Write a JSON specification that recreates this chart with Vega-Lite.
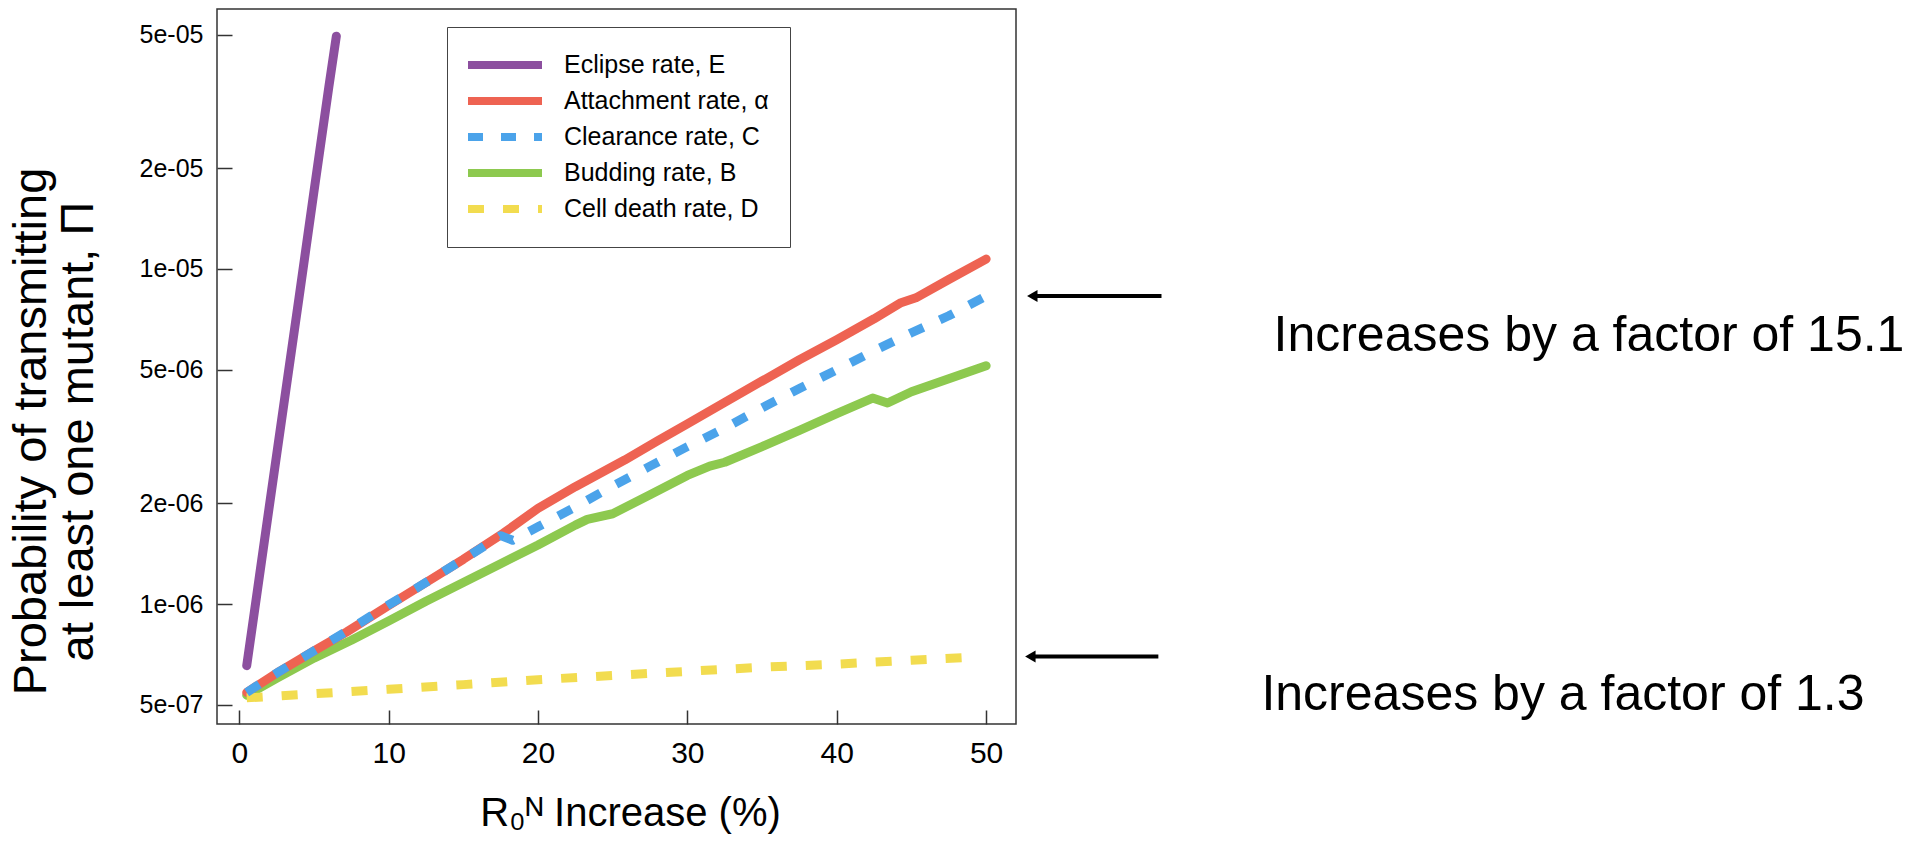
{
  "$schema": "https://vega.github.io/schema/vega-lite/v6.json",
  "width": 799,
  "height": 715,
  "autosize": {"type": "none"},
  "padding": {"left": 217, "top": 9, "right": 898, "bottom": 119},
  "background": "white",
  "config": {"view": {"stroke": "#333333", "strokeWidth": 1.5}, "font": "Liberation Sans"},
  "datasets": {
    "curves": [
      {"series": "Cell death rate, D", "x": 0.5, "y": 5.25e-7},
      {"series": "Cell death rate, D", "x": 5, "y": 5.4e-7},
      {"series": "Cell death rate, D", "x": 10, "y": 5.57e-7},
      {"series": "Cell death rate, D", "x": 15, "y": 5.75e-7},
      {"series": "Cell death rate, D", "x": 20, "y": 5.95e-7},
      {"series": "Cell death rate, D", "x": 25, "y": 6.12e-7},
      {"series": "Cell death rate, D", "x": 30, "y": 6.3e-7},
      {"series": "Cell death rate, D", "x": 35, "y": 6.48e-7},
      {"series": "Cell death rate, D", "x": 40, "y": 6.62e-7},
      {"series": "Cell death rate, D", "x": 45, "y": 6.8e-7},
      {"series": "Cell death rate, D", "x": 49.3, "y": 6.95e-7},
      {"series": "Budding rate, B", "x": 0.5, "y": 5.35e-7},
      {"series": "Budding rate, B", "x": 2.5, "y": 6.0e-7},
      {"series": "Budding rate, B", "x": 5, "y": 6.9e-7},
      {"series": "Budding rate, B", "x": 7.5, "y": 7.8e-7},
      {"series": "Budding rate, B", "x": 10, "y": 8.9e-7},
      {"series": "Budding rate, B", "x": 12.5, "y": 1.02e-6},
      {"series": "Budding rate, B", "x": 15, "y": 1.16e-6},
      {"series": "Budding rate, B", "x": 17.5, "y": 1.32e-6},
      {"series": "Budding rate, B", "x": 20, "y": 1.5e-6},
      {"series": "Budding rate, B", "x": 22.5, "y": 1.72e-6},
      {"series": "Budding rate, B", "x": 23.3, "y": 1.79e-6},
      {"series": "Budding rate, B", "x": 25, "y": 1.86e-6},
      {"series": "Budding rate, B", "x": 27.5, "y": 2.12e-6},
      {"series": "Budding rate, B", "x": 30, "y": 2.42e-6},
      {"series": "Budding rate, B", "x": 31.5, "y": 2.58e-6},
      {"series": "Budding rate, B", "x": 32.5, "y": 2.65e-6},
      {"series": "Budding rate, B", "x": 35, "y": 2.95e-6},
      {"series": "Budding rate, B", "x": 37.5, "y": 3.3e-6},
      {"series": "Budding rate, B", "x": 40, "y": 3.7e-6},
      {"series": "Budding rate, B", "x": 42.4, "y": 4.12e-6},
      {"series": "Budding rate, B", "x": 43.4, "y": 3.98e-6},
      {"series": "Budding rate, B", "x": 45, "y": 4.3e-6},
      {"series": "Budding rate, B", "x": 47.5, "y": 4.7e-6},
      {"series": "Budding rate, B", "x": 50, "y": 5.14e-6},
      {"series": "Attachment rate, α", "x": 0.5, "y": 5.45e-7},
      {"series": "Attachment rate, α", "x": 2.7, "y": 6.3e-7},
      {"series": "Attachment rate, α", "x": 5, "y": 7.25e-7},
      {"series": "Attachment rate, α", "x": 7.2, "y": 8.26e-7},
      {"series": "Attachment rate, α", "x": 10, "y": 9.9e-7},
      {"series": "Attachment rate, α", "x": 12.5, "y": 1.16e-6},
      {"series": "Attachment rate, α", "x": 15, "y": 1.36e-6},
      {"series": "Attachment rate, α", "x": 17.7, "y": 1.63e-6},
      {"series": "Attachment rate, α", "x": 20, "y": 1.93e-6},
      {"series": "Attachment rate, α", "x": 22.5, "y": 2.24e-6},
      {"series": "Attachment rate, α", "x": 25.8, "y": 2.69e-6},
      {"series": "Attachment rate, α", "x": 28, "y": 3.07e-6},
      {"series": "Attachment rate, α", "x": 30, "y": 3.45e-6},
      {"series": "Attachment rate, α", "x": 32.5, "y": 4.0e-6},
      {"series": "Attachment rate, α", "x": 35, "y": 4.63e-6},
      {"series": "Attachment rate, α", "x": 37.5, "y": 5.36e-6},
      {"series": "Attachment rate, α", "x": 40, "y": 6.15e-6},
      {"series": "Attachment rate, α", "x": 42.5, "y": 7.1e-6},
      {"series": "Attachment rate, α", "x": 44.3, "y": 7.93e-6},
      {"series": "Attachment rate, α", "x": 45.3, "y": 8.2e-6},
      {"series": "Attachment rate, α", "x": 47.5, "y": 9.3e-6},
      {"series": "Attachment rate, α", "x": 50, "y": 1.07e-5},
      {"series": "Clearance rate, C", "x": 0.5, "y": 5.45e-7},
      {"series": "Clearance rate, C", "x": 2.7, "y": 6.3e-7},
      {"series": "Clearance rate, C", "x": 5, "y": 7.25e-7},
      {"series": "Clearance rate, C", "x": 7.2, "y": 8.3e-7},
      {"series": "Clearance rate, C", "x": 10, "y": 9.95e-7},
      {"series": "Clearance rate, C", "x": 12.5, "y": 1.16e-6},
      {"series": "Clearance rate, C", "x": 15, "y": 1.36e-6},
      {"series": "Clearance rate, C", "x": 17.5, "y": 1.6e-6},
      {"series": "Clearance rate, C", "x": 18.3, "y": 1.55e-6},
      {"series": "Clearance rate, C", "x": 20, "y": 1.7e-6},
      {"series": "Clearance rate, C", "x": 22.5, "y": 1.95e-6},
      {"series": "Clearance rate, C", "x": 25, "y": 2.25e-6},
      {"series": "Clearance rate, C", "x": 27.5, "y": 2.58e-6},
      {"series": "Clearance rate, C", "x": 30, "y": 2.95e-6},
      {"series": "Clearance rate, C", "x": 32.5, "y": 3.35e-6},
      {"series": "Clearance rate, C", "x": 35, "y": 3.85e-6},
      {"series": "Clearance rate, C", "x": 37.5, "y": 4.4e-6},
      {"series": "Clearance rate, C", "x": 40, "y": 5.0e-6},
      {"series": "Clearance rate, C", "x": 42.5, "y": 5.7e-6},
      {"series": "Clearance rate, C", "x": 45, "y": 6.45e-6},
      {"series": "Clearance rate, C", "x": 47.5, "y": 7.25e-6},
      {"series": "Clearance rate, C", "x": 50, "y": 8.3e-6},
      {"series": "Eclipse rate, E", "x": 0.5, "y": 6.55e-7},
      {"series": "Eclipse rate, E", "x": 1, "y": 9.4e-7},
      {"series": "Eclipse rate, E", "x": 2, "y": 1.94e-6},
      {"series": "Eclipse rate, E", "x": 3, "y": 3.99e-6},
      {"series": "Eclipse rate, E", "x": 4, "y": 8.2e-6},
      {"series": "Eclipse rate, E", "x": 5, "y": 1.7e-5},
      {"series": "Eclipse rate, E", "x": 6, "y": 3.5e-5},
      {"series": "Eclipse rate, E", "x": 6.5, "y": 4.95e-5}
    ],
    "arrows": [
      {"x1": 53.0, "x2": 61.74, "y": 8.3e-6},
      {"x1": 52.9, "x2": 61.53, "y": 6.97e-7}
    ],
    "heads": [
      {"x": 53.09, "y": 8.3e-6},
      {"x": 52.96, "y": 6.97e-7}
    ],
    "notes": [
      {"x": 69.24, "y": 5.69e-6, "label": "Increases by a factor of 15.1"},
      {"x": 68.43, "y": 4.83e-7, "label": "Increases by a factor of 1.3"}
    ]
  },
  "layer": [
    {
      "data": {"name": "curves"},
      "transform": [{"filter": {"field": "series", "oneOf": ["Eclipse rate, E", "Attachment rate, α", "Budding rate, B"]}}],
      "mark": {"type": "line", "strokeWidth": 9, "strokeCap": "round", "strokeJoin": "round"},
      "encoding": {
        "x": {
          "field": "x", "type": "quantitative",
          "scale": {"domain": [-1.49, 52], "nice": false, "zero": false},
          "axis": {
            "values": [0, 10, 20, 30, 40, 50],
            "tickSize": -14, "tickWidth": 1.5, "tickColor": "#333333",
            "domain": false, "grid": false, "labelFlush": false,
            "labelFont": "Liberation Sans", "labelFontSize": 30, "labelColor": "black", "labelPadding": 28,
            "title": "R₀ᴺ Increase (%)",
            "titleFont": "Liberation Sans", "titleFontSize": 40, "titleFontWeight": "normal", "titleColor": "black",
            "titleX": 413, "titleY": 101, "titleBaseline": "alphabetic", "titleAlign": "center"
          }
        },
        "y": {
          "field": "y", "type": "quantitative",
          "scale": {"type": "log", "domain": [4.387e-7, 5.966e-5], "nice": false},
          "axis": {
            "values": [5e-7, 1e-6, 2e-6, 5e-6, 1e-5, 2e-5, 5e-5],
            "labelExpr": "replace(format(datum.value, '.0e'), regexp('e-([0-9])$'), 'e-0$1')",
            "tickSize": -15, "tickWidth": 1.5, "tickColor": "#333333",
            "domain": false, "grid": false, "labelFlush": false,
            "labelFont": "Liberation Sans", "labelFontSize": 25, "labelColor": "black", "labelPadding": 29,
            "title": ["Probability of transmitting", "at least one mutant, Π"],
            "titleFont": "Liberation Sans", "titleFontSize": 47, "titleFontWeight": "normal", "titleColor": "black",
            "titleX": -172, "titleY": 422, "titleLineHeight": 47, "titleBaseline": "alphabetic", "titleAlign": "center", "titleAngle": 270
          }
        },
        "color": {
          "field": "series", "type": "nominal",
          "scale": {
            "domain": ["Eclipse rate, E", "Attachment rate, α", "Clearance rate, C", "Budding rate, B", "Cell death rate, D"],
            "range": ["#8C4F9F", "#EE6352", "#4BA3EA", "#8DC94F", "#F2DC4F"]
          },
          "legend": {
            "orient": "none", "legendX": 230, "legendY": 18, "title": null,
            "strokeColor": "#444444", "fillColor": "white", "padding": 21,
            "symbolType": "stroke", "symbolSize": 5476, "symbolStrokeWidth": 8, "symbolOffset": -4,
            "clipHeight": 34, "rowPadding": 2,
            "labelFont": "Liberation Sans", "labelFontSize": 25, "labelColor": "black", "labelOffset": 18, "labelLimit": 400
          }
        }
      }
    },
    {
      "data": {"name": "curves"},
      "transform": [{"filter": {"field": "series", "oneOf": ["Clearance rate, C", "Cell death rate, D"]}}],
      "mark": {"type": "line", "strokeWidth": 9, "strokeCap": "butt", "strokeJoin": "round"},
      "encoding": {
        "x": {"field": "x", "type": "quantitative", "scale": {"domain": [-1.49, 52], "nice": false, "zero": false}},
        "y": {"field": "y", "type": "quantitative", "scale": {"type": "log", "domain": [4.387e-7, 5.966e-5], "nice": false}},
        "color": {"field": "series", "type": "nominal"},
        "strokeDash": {
          "field": "series", "type": "nominal",
          "scale": {
            "domain": ["Eclipse rate, E", "Attachment rate, α", "Clearance rate, C", "Budding rate, B", "Cell death rate, D"],
            "range": [[1, 0], [1, 0], [15, 18], [1, 0], [16, 19]]
          },
          "legend": null
        }
      }
    },
    {
      "data": {"name": "arrows"},
      "mark": {"type": "rule", "strokeWidth": 4, "color": "black"},
      "encoding": {
        "x": {"field": "x1", "type": "quantitative", "scale": {"domain": [-1.49, 52], "nice": false, "zero": false}},
        "x2": {"field": "x2"},
        "y": {"field": "y", "type": "quantitative", "scale": {"type": "log", "domain": [4.387e-7, 5.966e-5], "nice": false}}
      }
    },
    {
      "data": {"name": "heads"},
      "mark": {"type": "point", "shape": "triangle-left", "size": 144, "filled": true, "color": "black", "opacity": 1, "strokeWidth": 0},
      "encoding": {
        "x": {"field": "x", "type": "quantitative", "scale": {"domain": [-1.49, 52], "nice": false, "zero": false}},
        "y": {"field": "y", "type": "quantitative", "scale": {"type": "log", "domain": [4.387e-7, 5.966e-5], "nice": false}}
      }
    },
    {
      "data": {"name": "notes"},
      "mark": {"type": "text", "align": "left", "baseline": "alphabetic", "fontSize": 50, "font": "Liberation Sans", "color": "black"},
      "encoding": {
        "x": {"field": "x", "type": "quantitative", "scale": {"domain": [-1.49, 52], "nice": false, "zero": false}},
        "y": {"field": "y", "type": "quantitative", "scale": {"type": "log", "domain": [4.387e-7, 5.966e-5], "nice": false}},
        "text": {"field": "label"}
      }
    }
  ]
}
